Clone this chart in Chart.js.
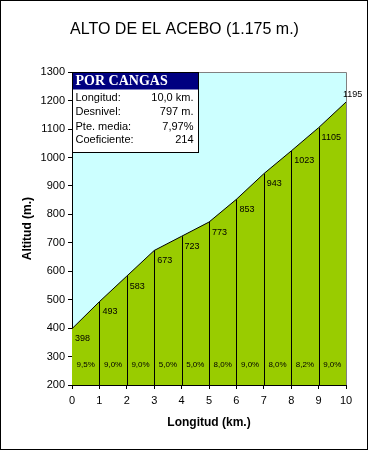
<!DOCTYPE html>
<html><head><meta charset="utf-8">
<script src="https://cdn.jsdelivr.net/npm/chart.js@4.4.1/dist/chart.umd.min.js"></script>
<style>html,body{margin:0;padding:0;background:#fff}#wrap{width:369px;height:451px;position:relative}</style>
</head><body><div id="wrap"><canvas id="c" width="369" height="451"></canvas></div>
<script>
const chartTitle = 'ALTO DE EL ACEBO (1.175 m.)';
const kmPoints = [0, 1, 2, 3, 4, 5, 6, 7, 8, 9, 10];
const altitudes = [398, 493, 583, 673, 723, 773, 853, 943, 1023, 1105, 1195];
const gradients = ['9,5%', '9,0%', '9,0%', '5,0%', '5,0%', '8,0%', '9,0%', '8,0%', '8,2%', '9,0%'];
const gradientLabelAlt = 270;
const yMin = 200, yMax = 1300, yStep = 100;
const xMin = 0, xMax = 10, xStep = 1;
const xTitle = 'Longitud (km.)';
const yTitle = 'Altitud (m.)';
const infoTitle = 'POR CANGAS';
const infoLabels = ['Longitud:', 'Desnivel:', 'Pte. media:', 'Coeficiente:'];
const infoValues = ['10,0 km.', '797 m.', '7,97%', '214'];

const FONT = 'Arial, "Liberation Sans", sans-serif';

const profilePlugin = {
  id: 'profile',
  beforeDraw(chart) {
    const {ctx, chartArea: a} = chart;
    ctx.save();
    ctx.fillStyle = '#fff';
    ctx.fillRect(0, 0, chart.width, chart.height);
    ctx.fillStyle = '#CCFFFF';
    ctx.fillRect(a.left, a.top, a.right - a.left, a.bottom - a.top);
    ctx.restore();
  },
  afterDatasetsDraw(chart) {
    const {ctx, chartArea: a, scales: {x, y}} = chart;
    ctx.save();
    // vertical km lines
    ctx.strokeStyle = '#000';
    ctx.lineWidth = 1;
    for (let i = 1; i < kmPoints.length - 1; i++) {
      const px = Math.round(x.getPixelForValue(kmPoints[i])) + 0.5;
      ctx.beginPath();
      ctx.moveTo(px, y.getPixelForValue(altitudes[i]));
      ctx.lineTo(px, a.bottom);
      ctx.stroke();
    }
    // top & right gray border
    ctx.strokeStyle = '#808080';
    ctx.beginPath();
    ctx.moveTo(a.left, Math.round(a.top) + 0.5);
    ctx.lineTo(Math.round(a.right) + 0.5, Math.round(a.top) + 0.5);
    ctx.lineTo(Math.round(a.right) + 0.5, a.bottom);
    ctx.stroke();
    // altitude labels
    ctx.fillStyle = '#000';
    ctx.font = '9px ' + FONT;
    ctx.textBaseline = 'middle';
    ctx.textAlign = 'left';
    for (let i = 0; i < kmPoints.length; i++) {
      const px = x.getPixelForValue(kmPoints[i]);
      const py = y.getPixelForValue(altitudes[i]);
      if (i === kmPoints.length - 1) {
        ctx.fillText(String(altitudes[i]), px - 3, py - 8);
      } else {
        ctx.fillText(String(altitudes[i]), px + 3, py + 10);
      }
    }
    // gradient labels
    ctx.font = '8px ' + FONT;
    ctx.textAlign = 'center';
    for (let i = 0; i < gradients.length; i++) {
      const px = x.getPixelForValue((kmPoints[i] + kmPoints[i + 1]) / 2);
      const py = y.getPixelForValue(gradientLabelAlt);
      ctx.fillText(gradients[i], px, py);
    }
    // info box
    const bx = Math.round(a.left) + 0.5, by = Math.round(a.top) + 0.5, bw = 126, bh = 80;
    ctx.fillStyle = '#fff';
    ctx.fillRect(bx, by, bw, bh);
    ctx.fillStyle = '#000080';
    ctx.fillRect(bx, by, bw, 17);
    ctx.strokeStyle = '#000';
    ctx.strokeRect(bx, by, bw, bh);
    ctx.fillStyle = '#fff';
    ctx.font = 'bold 14px "Liberation Serif", "Times New Roman", serif';
    ctx.textAlign = 'left';
    ctx.fillText(infoTitle, bx + 3, by + 9);
    ctx.fillStyle = '#000';
    ctx.font = '11px ' + FONT;
    const rowY = [25.5, 39.5, 54, 67.5];
    for (let i = 0; i < infoLabels.length; i++) {
      ctx.textAlign = 'left';
      ctx.fillText(infoLabels[i], bx + 3, by + rowY[i]);
      ctx.textAlign = 'right';
      ctx.fillText(infoValues[i], bx + bw - 5, by + rowY[i]);
    }
    // outer border
    ctx.strokeStyle = '#000';
    ctx.strokeRect(0.5, 0.5, 367, 449);
    ctx.restore();
  }
};

new Chart(document.getElementById('c'), {
  type: 'line',
  data: {
    datasets: [{
      data: kmPoints.map((k, i) => ({x: k, y: altitudes[i]})),
      borderColor: '#000',
      borderWidth: 1,
      backgroundColor: '#99CC00',
      fill: 'start',
      pointRadius: 0,
      tension: 0
    }]
  },
  options: {
    responsive: false,
    animation: false,
    devicePixelRatio: 1,
    layout: {padding: {left: 0, right: 0, top: 0, bottom: 0}},
    plugins: {
      legend: {display: false},
      tooltip: {enabled: false},
      title: {
        display: true,
        text: chartTitle,
        color: '#000',
        font: {family: FONT, size: 16, weight: 'normal'},
        padding: {top: 20, bottom: 33}
      }
    },
    scales: {
      x: {
        type: 'linear', min: xMin, max: xMax, z: 1,
        afterFit(s) { s.height = 66; },
        border: {display: true, color: '#000', width: 1},
        grid: {drawOnChartArea: false, drawTicks: true, tickLength: 4, color: '#000'},
        ticks: {stepSize: xStep, color: '#000', font: {family: FONT, size: 11}, padding: 5, maxRotation: 0},
        title: {display: true, text: xTitle, color: '#000', font: {family: FONT, size: 12, weight: 'bold'}, padding: {top: 0, bottom: 21}}
      },
      y: {
        type: 'linear', min: yMin, max: yMax, z: 1,
        afterFit(s) { s.width = 72; },
        border: {display: true, color: '#000', width: 1},
        grid: {drawOnChartArea: false, drawTicks: true, tickLength: 4, color: '#000'},
        ticks: {stepSize: yStep, color: '#000', font: {family: FONT, size: 11}, padding: 3, callback: v => String(v)},
        title: {display: true, text: yTitle, color: '#000', font: {family: FONT, size: 12, weight: 'bold'}, padding: {top: 20, bottom: 0}}
      },
      yRight: {
        type: 'linear', position: 'right', display: true, min: yMin, max: yMax,
        afterFit(s) { s.width = 23; },
        border: {display: false},
        grid: {display: false, drawTicks: false},
        ticks: {display: false}
      }
    }
  },
  plugins: [profilePlugin]
});
</script></body></html>
